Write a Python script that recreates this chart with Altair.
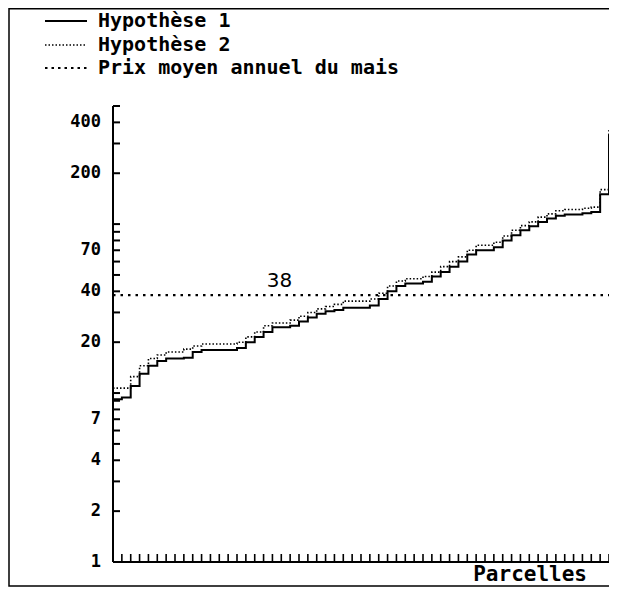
import altair as alt
import pandas as pd

# ---------------- data ----------------
parcels = list(range(0, 57))
hyp1 = [9.2, 9.4, 11, 13, 14.5, 15.5, 16, 16, 16.2, 17.5,
        18, 18, 18, 18, 18.5, 20, 21.5, 23, 24.5, 24.5,
        25, 26.5, 28, 29.5, 30.5, 31, 32, 32, 32, 33,
        36, 40, 43, 44.5, 44.5, 45.5, 49, 52, 56, 60,
        66, 70, 70, 73, 80, 86, 92, 97, 103, 108,
        112, 114, 114, 116, 118, 150, 340]
hyp2 = [10.7, 10.7, 12.5, 14.5, 16, 16.8, 17.5, 17.5, 18.2, 19,
        19.5, 19.5, 19.5, 19.5, 20, 21.5, 23, 25, 26, 26,
        27, 28.5, 30, 31.5, 32.5, 33.5, 35, 35, 35, 36,
        39, 43, 46, 47.5, 47.5, 49, 52, 56, 60, 64,
        70, 75, 75, 78, 85, 92, 98, 103, 110, 115,
        120, 122, 122, 124, 126, 160, 360]
prix_moyen = [38]
prix_label_x = [18.8]
y_tick_values = [1, 2, 3, 4, 5, 6, 7, 8, 9, 10, 20, 30, 40, 50, 60, 70, 80, 90,
                 100, 200, 300, 400, 500]
y_labels = [1, 2, 4, 7, 20, 40, 70, 200, 400]
x_ticks = list(range(1, 57))
legend_labels = ["Hypothèse 1", "Hypothèse 2", "Prix moyen annuel du mais"]
x_title = "Parcelles"

# ---------------- layout ----------------
W, H = 496, 456
PAD_L, PAD_T, PAD_B = 105, 98, 25
MONO = "DejaVu Sans Mono"

xscale = alt.Scale(domain=[0, 56], nice=False, zero=False)
yscale = alt.Scale(type="log", domain=[1, 500], nice=False)

df1 = pd.DataFrame({"parcelle": parcels, "valeur": hyp1})
df2 = pd.DataFrame({"parcelle": parcels, "valeur": hyp2})
df_mean = pd.DataFrame({"valeur": prix_moyen, "x": [0], "x2": [56],
                        "lx": prix_label_x, "label": [str(v) for v in prix_moyen]})
df_yt = pd.DataFrame({"v": y_tick_values})
df_yl = pd.DataFrame({"v": y_labels, "t": [str(v) for v in y_labels]})
df_xt = pd.DataFrame({"p": x_ticks})
one = pd.DataFrame({"k": [0]})

line1 = alt.Chart(df1).mark_line(interpolate="step-after", color="black",
                                 strokeWidth=2).encode(
    x=alt.X("parcelle:Q", scale=xscale, axis=None),
    y=alt.Y("valeur:Q", scale=yscale, axis=None),
)
line2 = alt.Chart(df2).mark_line(interpolate="step-after", color="black",
                                 strokeWidth=1.6, strokeDash=[1.5, 2]).encode(
    x=alt.X("parcelle:Q", scale=xscale, axis=None),
    y=alt.Y("valeur:Q", scale=yscale, axis=None),
)
mean_rule = alt.Chart(df_mean).mark_rule(color="black", strokeWidth=2.2,
                                         strokeDash=[2.5, 5]).encode(
    x=alt.X("x:Q", scale=xscale, axis=None),
    x2="x2:Q",
    y=alt.Y("valeur:Q", scale=yscale, axis=None),
)
mean_text = alt.Chart(df_mean).mark_text(font="DejaVu Sans", fontSize=20,
                                         color="black", dy=-14,
                                         align="center").encode(
    x=alt.X("lx:Q", scale=xscale, axis=None),
    y=alt.Y("valeur:Q", scale=yscale, axis=None),
    text="label:N",
)
# axis lines
y_domain = alt.Chart(one).mark_rule(color="black", strokeWidth=2).encode(
    x=alt.value(0), y=alt.value(0), y2=alt.value(H))
x_domain = alt.Chart(one).mark_rule(color="black", strokeWidth=2).encode(
    x=alt.value(0), x2=alt.value(W), y=alt.value(H))
# inward ticks
ytick_rules = alt.Chart(df_yt).mark_rule(color="black", strokeWidth=2).encode(
    y=alt.Y("v:Q", scale=yscale, axis=None),
    x=alt.value(0), x2=alt.value(7),
)
xtick_rules = alt.Chart(df_xt).mark_rule(color="black", strokeWidth=1.6).encode(
    x=alt.X("p:Q", scale=xscale, axis=None),
    y=alt.value(H), y2=alt.value(H - 8),
)
# y labels
ylabels = alt.Chart(df_yl).mark_text(font=MONO, fontWeight="bold", fontSize=17,
                                     align="right", baseline="middle",
                                     color="black").encode(
    y=alt.Y("v:Q", scale=yscale, axis=None),
    x=alt.value(-12), text="t:N",
)
parcelles = alt.Chart(pd.DataFrame({"t": [x_title]})).mark_text(
    font=MONO, fontWeight="bold", fontSize=21, align="right",
    baseline="middle", color="black").encode(
    x=alt.value(W - 22), y=alt.value(H + 13), text="t:N")

# legend (manual, top-left)
leg_y = [-85, -61, -38]
leg_layers = []
dashes = [None, [1.5, 2], [2.5, 4]]
widths = [2, 1.5, 2.2]
for lab, yy, d, w in zip(legend_labels, leg_y, dashes, widths):
    kw = dict(color="black", strokeWidth=w)
    if d is not None:
        kw["strokeDash"] = d
    leg_layers.append(
        alt.Chart(pd.DataFrame({"t": [lab]})).mark_rule(**kw).encode(
            x=alt.value(-68), x2=alt.value(-26), y=alt.value(yy)))
    leg_layers.append(
        alt.Chart(pd.DataFrame({"t": [lab]})).mark_text(
            font=MONO, fontWeight="bold", fontSize=20, align="left",
            baseline="middle", color="black").encode(
            x=alt.value(-15), y=alt.value(yy), text="t:N"))

frame = alt.Chart(one).mark_rect(
    fillOpacity=0, stroke="black", strokeWidth=1.5).encode(
    x=alt.value(-PAD_L + 1), x2=alt.value(W + 20),
    y=alt.value(-PAD_T + 0.8), y2=alt.value(H + PAD_B - 1))

chart = alt.layer(
    line1, line2, mean_rule, mean_text, y_domain, x_domain, ytick_rules,
    xtick_rules, ylabels, parcelles, *leg_layers, frame
).properties(
    width=W, height=H,
    background="white",
    autosize=alt.AutoSizeParams(type="none"),
    padding={"left": PAD_L, "top": PAD_T, "right": 0, "bottom": PAD_B},
).configure_view(stroke=None)

chart.save("out.html", embed_options={"renderer": "svg", "actions": False})
